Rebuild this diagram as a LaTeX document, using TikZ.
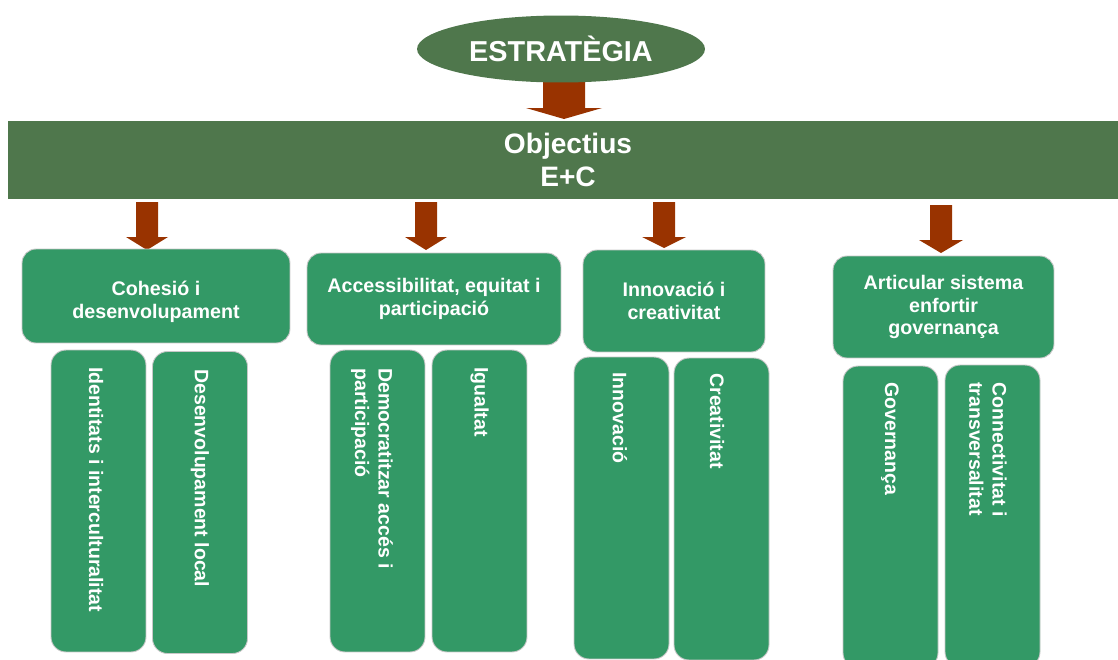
\documentclass[tikz,border=0pt]{standalone}
\usepackage{fontspec}
\setmainfont{Liberation Sans}
\usetikzlibrary{shapes.geometric}
\definecolor{darkgreen}{HTML}{4F774C}
\definecolor{boxgreen}{HTML}{339966}
\definecolor{arrowbrown}{HTML}{993300}
\definecolor{edgegray}{HTML}{C8C8C8}
\newcommand{\blockarrow}[6]{\fill[arrowbrown] (#1-#2,#4) -- (#1+#2,#4) -- (#1+#2,#5) -- (#1+#3,#5) -- (#1,#6) -- (#1-#3,#5) -- (#1-#2,#5) -- cycle;}
\tikzset{
  cat/.style={rectangle, rounded corners=0.28cm, fill=boxgreen, draw=edgegray, line width=0.5pt,
    text=white, font=\bfseries\fontsize{11.2}{13}\selectfont, align=center, inner sep=0pt},
  cattext/.style={text=white, font=\bfseries\fontsize{11.2}{13}\selectfont, align=center, inner sep=0pt},
  vbox/.style={rectangle, rounded corners=0.3cm, fill=boxgreen, draw=edgegray, line width=0.5pt,
    minimum width=1.9cm, minimum height=6.04cm, inner sep=0pt},
  vtext/.style={text=white, font=\bfseries\fontsize{11.1}{13.3}\selectfont, align=left,
    inner sep=0pt, anchor=west, rotate=-90},
}
\begin{document}
\begin{tikzpicture}[x=0.02cm,y=-0.02cm]
\useasboundingbox (0,0) rectangle (1118,659);
\fill[white] (0,0) rectangle (1118,659);
\begin{scope}
\clip (0,0) rectangle (1118,659);
% main arrow
\blockarrow{564}{21}{38}{70}{108}{119}
\node[ellipse, fill=darkgreen, minimum width=5.76cm, minimum height=1.34cm, inner sep=0pt,
  text=white, font=\bfseries\fontsize{16.4}{18}\selectfont] (strat) at (561,49) {ESTRATÈGIA};
% banner
\node[rectangle, fill=darkgreen, minimum width=22.2cm, minimum height=1.56cm, inner sep=0pt] (obj) at (563,160) {};
\node[text=white, align=center, inner sep=0pt, font=\bfseries\fontsize{16}{18.7}\selectfont] (objtext) at (568,160) {Objectius\\E+C};
% arrows to categories
\blockarrow{147}{11}{21}{202}{237}{250}
\blockarrow{426}{11}{21}{202}{237}{250}
\blockarrow{664}{11}{22}{202}{237}{248}
\blockarrow{941}{11}{22}{205}{240}{253}
% categories
\node[cat, minimum width=5.36cm, minimum height=1.88cm] (c1) at (156,296) {};
\node[cattext] (c1text) at (156,302) {Cohesió i\\desenvolupament};
\node[cat, minimum width=5.08cm, minimum height=1.84cm] (c2) at (434,299) {Accessibilitat, equitat i\\participació};
\node[cat, minimum width=3.64cm, minimum height=2.04cm] (c3) at (674,301) {Innovació i\\creativitat};
\node[cat, minimum width=4.42cm, minimum height=2.04cm] (c4) at (943.5,307) {Articular sistema\\enfortir\\governança};
% vertical boxes
\node[vbox] (v1a) at (98.5,501) {};
\node[vbox] (v1b) at (200,502.5) {};
\node[vbox] (v2a) at (377.5,501) {};
\node[vbox] (v2b) at (479.5,501) {};
\node[vbox] (v3a) at (621.5,508) {};
\node[vbox] (v3b) at (721.5,509) {};
\node[vbox] (v4a) at (890.5,517) {};
\node[vbox] (v4b) at (992.5,516) {};
\node[vtext] (t1a) at (96,367) {Identitats i interculturalitat};
\node[vtext] (t1b) at (200,369) {Desenvolupament local};
\node[vtext] (t2a) at (372,368) {Democratitzar accés i\\participació};
\node[vtext] (t2b) at (479.5,367) {Igualtat};
\node[vtext] (t3a) at (620,372) {Innovació};
\node[vtext] (t3b) at (717,373) {Creativitat};
\node[vtext] (t4a) at (890,382) {Governança};
\node[vtext] (t4b) at (988,382) {Connectivitat i\\transversalitat};
\end{scope}
\end{tikzpicture}
\end{document}
